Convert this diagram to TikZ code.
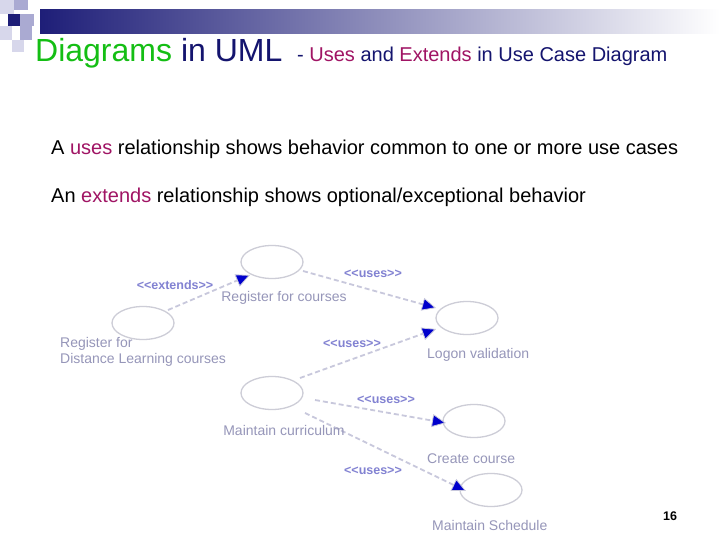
\documentclass[tikz,border=0pt]{standalone}
\usepackage{fontspec}
\setmainfont{Liberation Sans}
\usetikzlibrary{arrows.meta,shapes.geometric}
\definecolor{navy}{RGB}{20,20,110}
\definecolor{ttlgreen}{RGB}{20,190,20}
\definecolor{mag}{RGB}{160,20,100}
\definecolor{uclabel}{RGB}{150,150,185}
\definecolor{stereo}{RGB}{130,130,210}
\definecolor{ucline}{RGB}{200,200,220}
\definecolor{ucedge}{RGB}{205,205,215}
\definecolor{sq1}{RGB}{30,30,120}
\definecolor{sq2}{RGB}{170,170,210}
\definecolor{sq3}{RGB}{215,215,235}
\newcommand{\stereotype}[1]{{<}{<}#1{>}{>}}
\begin{document}
\begin{tikzpicture}[x=1pt,y=-1pt,
  uc/.style={draw=ucedge,line width=1.3pt,ellipse,minimum width=62pt,minimum height=33pt,inner sep=0pt},
  lbl/.style={text=uclabel,font=\fontsize{14}{16}\selectfont,inner sep=0pt},
  st/.style={text=stereo,font=\bfseries\fontsize{12.5}{15}\selectfont,inner sep=0pt},
  rel/.style={draw=ucline,line width=1.8pt,dash pattern=on 5pt off 3pt,
    -{Triangle[length=14pt,width=13pt,fill=blue!80!black,color=ucline,line width=0.8pt]}}]
\useasboundingbox (0,0) rectangle (720,540);
\fill[white] (0,0) rectangle (720,540);
% header decoration
\shade[left color=sq1,right color=white] (40,10) rectangle (720,34);
\fill[sq3] (0,0) rectangle (14,14);
\fill[sq2] (14,0) rectangle (28,10);
\fill[sq1] (8,14) rectangle (20,26);
\fill[sq2] (20,14) rectangle (34,26);
\fill[sq3] (0,26) rectangle (12,40);
\fill[sq2] (20,26) rectangle (32,40);
\fill[sq3] (12,40) rectangle (24,52);
% title
\node[anchor=base west,inner sep=0pt] (ttl) at (35,62) {\fontsize{32}{36}\selectfont\textcolor{ttlgreen}{Diagrams} \textcolor{navy}{in UML}};
\node[anchor=base west,inner sep=0pt] (sub) at (297,62) {\fontsize{20}{24}\selectfont\textcolor{navy}{- }\textcolor{mag}{Uses} \textcolor{navy}{and} \textcolor{mag}{Extends} \textcolor{navy}{in Use Case Diagram}};
\node[anchor=base west,inner sep=0pt] (t1) at (51,155) {\fontsize{20}{24}\selectfont A \textcolor{mag}{uses} relationship shows behavior common to one or more use cases};
\node[anchor=base west,inner sep=0pt] (t2) at (51,203) {\fontsize{20}{24}\selectfont An \textcolor{mag}{extends} relationship shows optional/exceptional behavior};
% use cases
\node[uc] (reg) at (272,262) {};
\node[uc] (dist) at (143,323) {};
\node[uc] (logon) at (467,318) {};
\node[uc] (curr) at (272,393) {};
\node[uc] (create) at (474,421) {};
\node[uc] (sched) at (491,490) {};
% relations
\coordinate (e0) at (168,310); \coordinate (e1) at (250,275);
\coordinate (a0) at (303,271); \coordinate (a1) at (436,308);
\coordinate (b0) at (300,378); \coordinate (b1) at (436,329);
\coordinate (c0) at (315,400); \coordinate (c1) at (446,423);
\coordinate (d0) at (305,413); \coordinate (d1) at (466,491);
\draw[rel] (e0) -- (e1);
\draw[rel] (a0) -- (a1);
\draw[rel] (b0) -- (b1);
\draw[rel] (c0) -- (c1);
\draw[rel] (d0) -- (d1);
% labels
\node[st] (s0) at (175,285) {\stereotype{extends}};
\node[st] (s1) at (373,274) {\stereotype{uses}};
\node[st] (s2) at (352,344) {\stereotype{uses}};
\node[st] (s3) at (386,400) {\stereotype{uses}};
\node[st] (s4) at (373,471) {\stereotype{uses}};
\node[lbl] (l1) at (284,298) {Register for courses};
\node[lbl,anchor=north west,align=left] (l2) at (60,337) {Register for\\Distance Learning courses};
\node[lbl,anchor=west] (l3) at (427,355) {Logon validation};
\node[lbl] (l4) at (284,430) {Maintain curriculum};
\node[lbl,anchor=west] (l5) at (427,459) {Create course};
\node[lbl,anchor=west] (l6) at (432,525) {Maintain Schedule};
\node[inner sep=0pt,font=\bfseries\fontsize{12.5}{14}\selectfont] (pg) at (670,516) {16};
\end{tikzpicture}
\end{document}
